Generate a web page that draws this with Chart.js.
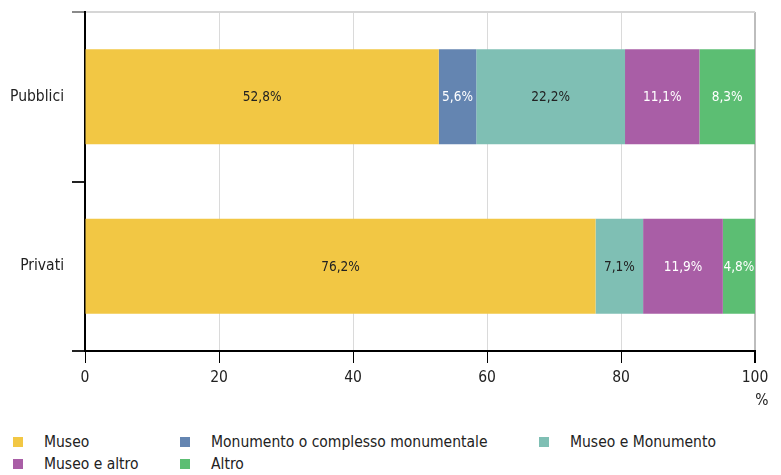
<!DOCTYPE html>
<html>
<head>
<meta charset="utf-8">
<script src="https://cdn.jsdelivr.net/npm/chart.js@4"></script>
<style>
  body { margin: 0; background: #fff; font-family: "DejaVu Sans Condensed", "Liberation Sans Narrow", sans-serif; }
  #wrap { position: relative; width: 781px; height: 475px; }
  #box { position: absolute; left: 0; top: 0; width: 781px; height: 420px; }
  #legend { position: absolute; left: 13px; top: 432px; display: grid;
    grid-template-columns: 167px 359px auto; row-gap: 3px; font-size: 15.5px; color: #222; }
  .item { display: flex; align-items: center; height: 19px; }
  .sw { width: 10px; height: 10px; margin-right: 21px; }
</style>
</head>
<body>
<div id="wrap">
  <div id="box"><canvas id="myChart"></canvas></div>
  <div id="legend"></div>
</div>
<script>
const categories = ['Pubblici', 'Privati'];
const seriesNames = ['Museo', 'Monumento o complesso monumentale', 'Museo e Monumento', 'Museo e altro', 'Altro'];
const museo = [52.8, 76.2];
const monumento = [5.6, 0];
const museoMonumento = [22.2, 7.1];
const museoAltro = [11.1, 11.9];
const altro = [8.3, 4.8];
const xTicks = [0, 20, 40, 60, 80, 100];

const colors = ['#F2C744', '#6485B1', '#7FBFB4', '#A95EA6', '#5CBE73'];
const labelColors = ['#222', '#fff', '#222', '#fff', '#fff'];
const font = '"DejaVu Sans Condensed", "Liberation Sans Narrow", sans-serif';

const values = [museo, monumento, museoMonumento, museoAltro, altro];

// legend as html, 3 columns
const legend = document.getElementById('legend');
for (let i = 0; i < seriesNames.length; i++) {
  const d = document.createElement('div');
  d.className = 'item';
  d.innerHTML = '<span class="sw" style="background:' + colors[i] + '"></span>' + seriesNames[i];
  legend.appendChild(d);
}

const segLabels = {
  id: 'segLabels',
  afterDatasetsDraw(chart) {
    const c = chart.ctx;
    c.save();
    c.font = '13.5px ' + font;
    c.textAlign = 'center';
    c.textBaseline = 'middle';
    chart.data.datasets.forEach((ds, i) => {
      chart.getDatasetMeta(i).data.forEach((el, j) => {
        const v = ds.data[j];
        if (!v) return;
        c.fillStyle = labelColors[i];
        c.fillText(v.toFixed(1).replace('.', ',') + '%', (el.x + el.base) / 2, el.y + 1);
      });
    });
    // unit under the x axis
    const xs = chart.scales.x;
    c.font = '15.5px ' + font;
    c.fillStyle = '#222';
    c.fillText('%', xs.right + 7, 401);
    c.restore();
  }
};

const ctx = document.getElementById('myChart');
new Chart(ctx, {
  type: 'bar',
  data: {
    labels: categories,
    datasets: values.map((v, i) => ({
      label: seriesNames[i],
      data: v,
      backgroundColor: colors[i],
      borderWidth: 0,
      categoryPercentage: 1,
      barPercentage: 0.56
    }))
  },
  options: {
    indexAxis: 'y',
    responsive: true,
    maintainAspectRatio: false,
    animation: false,
    layout: { padding: { top: 12, right: 26, left: 0, bottom: 0 } },
    plugins: {
      legend: { display: false },
      tooltip: { enabled: false }
    },
    scales: {
      x: {
        stacked: true,
        min: 0,
        max: 100,
        afterBuildTicks: (s) => { s.ticks = xTicks.map(v => ({ value: v })); },
        afterFit: (s) => { s.height = 69; },
        border: { color: '#000', width: 2 },
        grid: {
          color: (c) => c.tick && c.tick.value === 100 ? '#bdbdbd' : '#dadada',
          tickColor: '#000',
          tickLength: 12,
          lineWidth: (c) => c.tick && c.tick.value === 100 ? 2 : 1
        },
        ticks: { color: '#222', font: { family: font, size: 15.5 }, padding: 6 }
      },
      y: {
        stacked: true,
        afterFit: (s) => { s.width = 85; s.paddingTop = 0; s.paddingBottom = 0; },
        border: { color: '#000', width: 2 },
        grid: {
          offset: true,
          color: (c) => c.index === 0 ? '#d6d6d6' : 'rgba(0,0,0,0)',
          tickColor: (c) => c.index === 0 ? '#8a8a8a' : '#222',
          tickLength: 13,
          lineWidth: 2
        },
        ticks: { color: '#222', font: { family: font, size: 15.5 }, padding: 8 }
      }
    }
  },
  plugins: [segLabels]
});
</script>
</body>
</html>
